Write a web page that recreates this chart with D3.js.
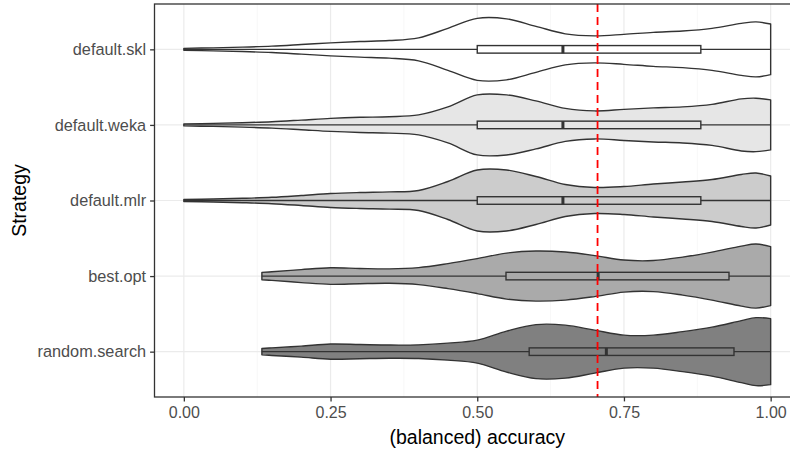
<!DOCTYPE html>
<html>
<head>
<meta charset="utf-8">
<script src="https://cdn.jsdelivr.net/npm/d3@7"></script>
<style>
  html, body { margin: 0; padding: 0; background: #fff; }
  svg { display: block; font-family: "Liberation Sans", Arial, Helvetica, sans-serif; }
</style>
</head>
<body>
<svg id="chart" width="790" height="451"></svg>
<script>
// ---------------- DATA ----------------
const categories = ["default.skl", "default.weka", "default.mlr", "best.opt", "random.search"];

// evaluation grids (balanced accuracy) for the violin density estimates
const gridDefault = [0, 0.05, 0.10, 0.15, 0.20, 0.25, 0.30, 0.35, 0.40, 0.45, 0.50, 0.55, 0.60, 0.65, 0.70, 0.75, 0.80, 0.85, 0.90, 0.95, 0.975, 1.0];
const gridTuned   = [0.133, 0.15, 0.20, 0.25, 0.30, 0.35, 0.40, 0.45, 0.50, 0.55, 0.60, 0.65, 0.70, 0.75, 0.80, 0.85, 0.90, 0.95, 0.975, 1.0];

// relative density (arbitrary units) along each grid
const densitySkl    = [1.0, 1.5, 2.2, 3.2, 4.8, 6.5, 7.8, 8.8, 11.5, 21, 31, 30.5, 23, 15.5, 13.5, 15, 17, 18.3, 21, 26, 27.5, 25.3];
const densityWeka   = [1.0, 1.5, 2.2, 3.2, 4.8, 6.5, 7.6, 8.2, 10, 18, 30, 30, 24, 16.5, 14, 15.5, 17, 18, 20.5, 26, 26.7, 25];
const densityMlr    = [1.0, 1.5, 2.2, 3.2, 5.0, 7.0, 8.0, 8.6, 10, 19, 30.5, 30.5, 24, 16, 13, 14, 16.5, 18.5, 21, 26, 27.5, 24.5];
const densityBest   = [3.7, 4.3, 6.5, 8.3, 7.6, 7.2, 8.5, 12.5, 17.5, 23, 25, 24, 20.5, 16, 15.5, 19, 24, 30, 32, 29.5];
const densityRandom = [3.2, 3.8, 5.5, 7.6, 7.1, 6.6, 6.8, 8.5, 11.5, 20.5, 27, 26.5, 21.5, 16.5, 16.5, 20, 24.5, 31, 34, 33];

// boxplot statistics: [min, q1, median, q3, max]
const boxSkl    = [0, 0.50, 0.646, 0.881, 1.0];
const boxWeka   = [0, 0.50, 0.646, 0.881, 1.0];
const boxMlr    = [0, 0.50, 0.646, 0.881, 1.0];
const boxBest   = [0.133, 0.549, 0.706, 0.929, 1.0];
const boxRandom = [0.133, 0.5885, 0.72, 0.9375, 1.0];

const referenceLine = 0.705;
const xTicks = [0, 0.25, 0.5, 0.75, 1.0];
const xMinorTicks = [0.125, 0.375, 0.625, 0.875];

const fillColors = ["#FFFFFF", "#E6E6E6", "#CCCCCC", "#AAAAAA", "#808080"];

const series = [
  { name: categories[0], grid: gridDefault, dens: densitySkl,    box: boxSkl },
  { name: categories[1], grid: gridDefault, dens: densityWeka,   box: boxWeka },
  { name: categories[2], grid: gridDefault, dens: densityMlr,    box: boxMlr },
  { name: categories[3], grid: gridTuned,   dens: densityBest,   box: boxBest },
  { name: categories[4], grid: gridTuned,   dens: densityRandom, box: boxRandom }
];

// ---------------- LAYOUT ----------------
const svg = d3.select("#chart");
const panel = { left: 154.5, right: 800, top: 4, bottom: 397 };
const ink = "#333333";
const lw = 1.4;

const x = d3.scaleLinear().domain([-0.05, 1.05]).range([panel.left, panel.right]);
const y = d3.scalePoint().domain(categories).range([panel.top, panel.bottom]).padding(0.6);
const step = y.step();
const color = d3.scaleOrdinal().domain(categories).range(fillColors);

const maxDens = d3.max(series, s => d3.max(s.dens));
const w = d3.scaleLinear().domain([0, maxDens]).range([0, 0.45 * step]);

svg.append("defs").append("clipPath").attr("id", "clip")
  .append("rect").attr("x", panel.left).attr("y", panel.top)
  .attr("width", panel.right - panel.left).attr("height", panel.bottom - panel.top);

const g = svg.append("g").attr("clip-path", "url(#clip)");

// grid
g.selectAll(".minor").data(xMinorTicks).join("line")
  .attr("x1", d => x(d)).attr("x2", d => x(d))
  .attr("y1", panel.top).attr("y2", panel.bottom)
  .attr("stroke", "#F2F2F2").attr("stroke-width", 0.6);
g.selectAll(".major").data(xTicks).join("line")
  .attr("x1", d => x(d)).attr("x2", d => x(d))
  .attr("y1", panel.top).attr("y2", panel.bottom)
  .attr("stroke", "#EBEBEB").attr("stroke-width", 1.2);
g.selectAll(".hmajor").data(categories).join("line")
  .attr("x1", panel.left).attr("x2", panel.right)
  .attr("y1", d => y(d)).attr("y2", d => y(d))
  .attr("stroke", "#EBEBEB").attr("stroke-width", 1.2);

// violins
series.forEach(s => {
  const cy = y(s.name);
  const pts = s.grid.map((v, i) => ({ v, d: s.dens[i] }));
  const area = d3.area()
    .x(p => x(p.v))
    .y0(p => cy + w(p.d))
    .y1(p => cy - w(p.d))
    .curve(d3.curveCatmullRom.alpha(0.5));
  g.append("path").attr("d", area(pts))
    .attr("fill", color(s.name)).attr("stroke", ink).attr("stroke-width", lw)
    .attr("stroke-linejoin", "round");
});

// boxplots
const boxH = 0.1 * step;
series.forEach(s => {
  const cy = y(s.name);
  const [mn, q1, md, q3, mx] = s.box;
  const bg = g.append("g");
  bg.append("line").attr("x1", x(mn)).attr("x2", x(q1)).attr("y1", cy).attr("y2", cy)
    .attr("stroke", ink).attr("stroke-width", lw);
  bg.append("line").attr("x1", x(q3)).attr("x2", x(mx)).attr("y1", cy).attr("y2", cy)
    .attr("stroke", ink).attr("stroke-width", lw);
  bg.append("rect").attr("x", x(q1)).attr("y", cy - boxH / 2)
    .attr("width", x(q3) - x(q1)).attr("height", boxH)
    .attr("fill", color(s.name)).attr("stroke", ink).attr("stroke-width", lw);
  bg.append("line").attr("x1", x(md)).attr("x2", x(md))
    .attr("y1", cy - boxH / 2).attr("y2", cy + boxH / 2)
    .attr("stroke", ink).attr("stroke-width", 3);
});

// reference line
g.append("line").attr("x1", x(referenceLine)).attr("x2", x(referenceLine))
  .attr("y1", panel.top).attr("y2", panel.bottom)
  .attr("stroke", "#FF0000").attr("stroke-width", 1.8)
  .attr("stroke-dasharray", "8,5");

// panel border
svg.append("rect").attr("x", panel.left).attr("y", panel.top)
  .attr("width", panel.right - panel.left).attr("height", panel.bottom - panel.top)
  .attr("fill", "none").attr("stroke", ink).attr("stroke-width", 1.3);

// axes
const xAxis = svg.append("g").attr("transform", `translate(0,${panel.bottom})`)
  .call(d3.axisBottom(x).tickValues(xTicks).tickFormat(d3.format(".2f")).tickSize(4.4).tickPadding(5.5));
xAxis.select(".domain").remove();
xAxis.selectAll(".tick line").attr("stroke", ink).attr("stroke-width", 1.3);
xAxis.selectAll(".tick text").attr("fill", "#4D4D4D").attr("font-size", 16).attr("font-family", "Liberation Sans, Arial, sans-serif");

const yAxis = svg.append("g").attr("transform", `translate(${panel.left},0)`)
  .call(d3.axisLeft(y).tickSize(4.4).tickPadding(4));
yAxis.select(".domain").remove();
yAxis.selectAll(".tick line").attr("stroke", ink).attr("stroke-width", 1.3);
yAxis.selectAll(".tick text").attr("fill", "#4D4D4D").attr("font-size", 16.3).attr("font-family", "Liberation Sans, Arial, sans-serif");

// titles
svg.append("text").attr("x", x(0.5)).attr("y", 444)
  .attr("text-anchor", "middle").attr("font-size", 19.5).attr("fill", "#000")
  .text("(balanced) accuracy");
svg.append("text").attr("transform", `translate(26,${(panel.top + panel.bottom) / 2}) rotate(-90)`)
  .attr("text-anchor", "middle").attr("font-size", 19.5).attr("fill", "#000")
  .text("Strategy");
</script>
</body>
</html>
